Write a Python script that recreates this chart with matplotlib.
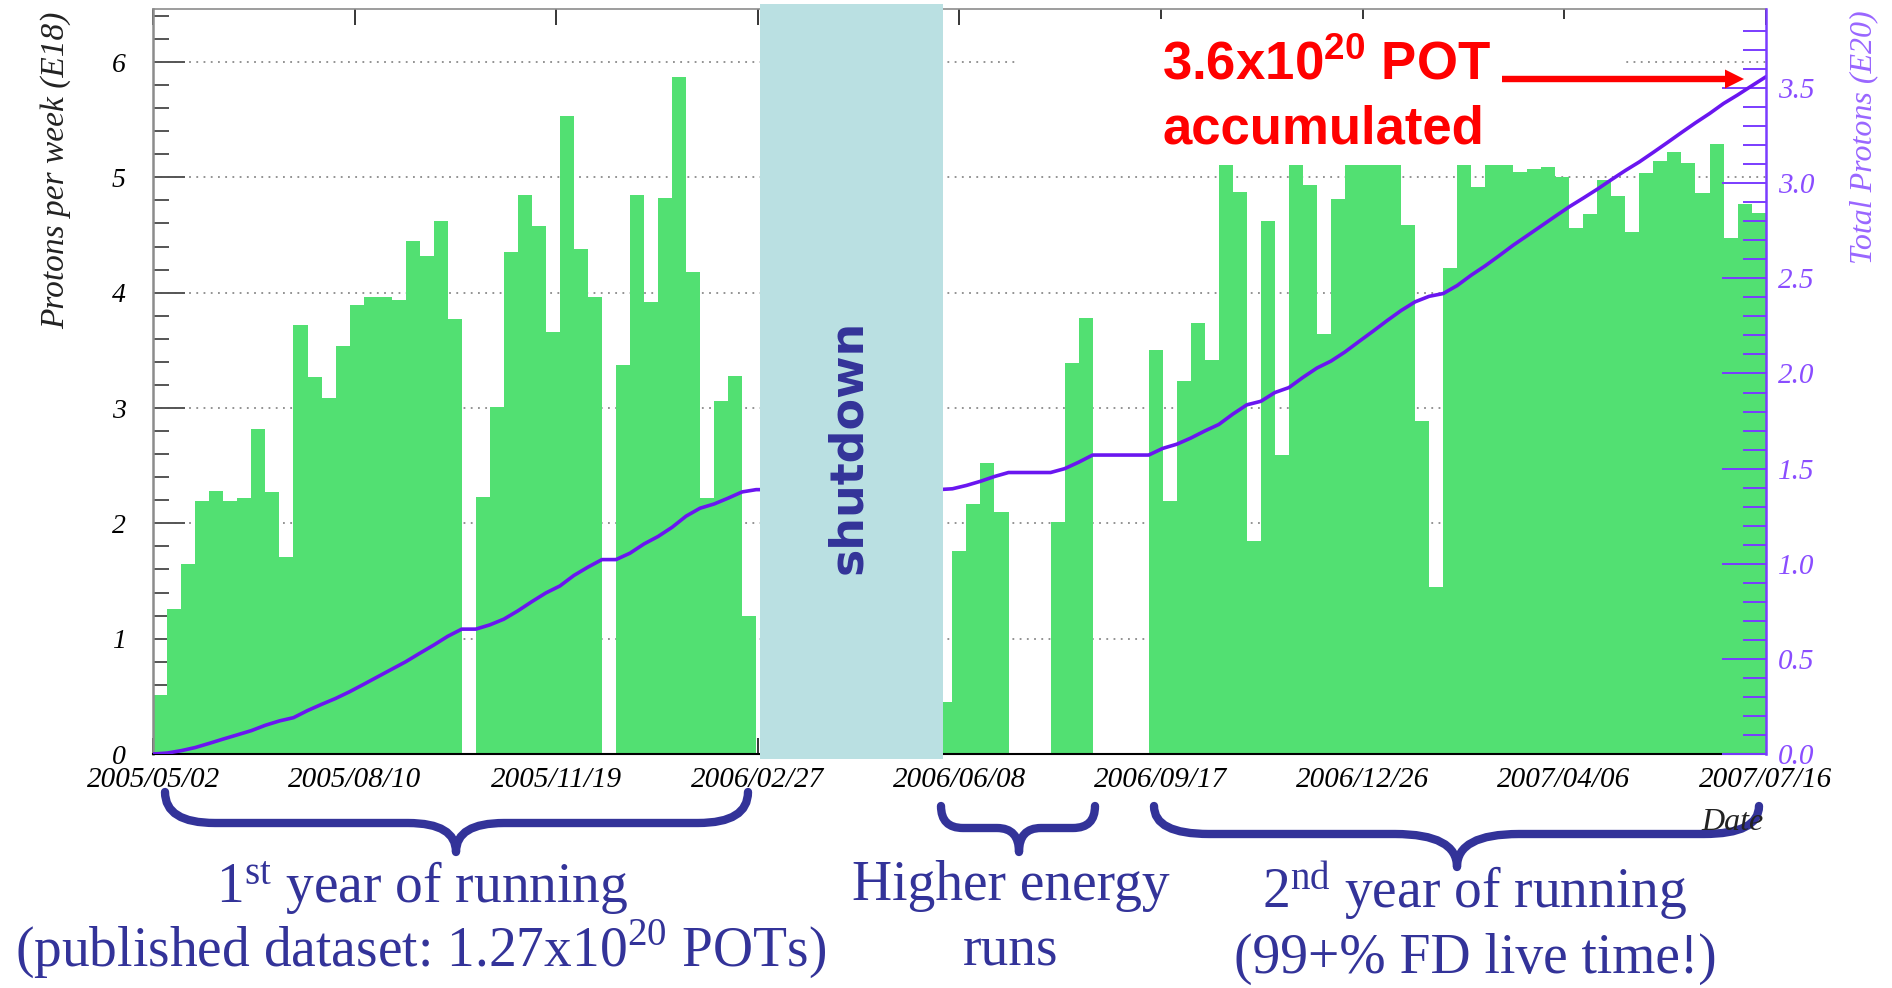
import matplotlib
matplotlib.use("Agg")
import matplotlib.pyplot as plt
import matplotlib.dates as mdates
from matplotlib.patches import Rectangle, FancyArrow, PathPatch
from matplotlib.path import Path
import numpy as np
import datetime as dt

plt.rcParams["font.family"] = ["Liberation Serif", "DejaVu Serif"]
plt.rcParams["mathtext.fontset"] = "custom"
plt.rcParams["mathtext.rm"] = "Liberation Serif"
plt.rcParams["mathtext.bf"] = "Liberation Sans:bold"

# protons on target per week (E18), weekly bins starting 2005/05/02
year1 = [0.51, 1.26, 1.65, 2.19, 2.28, 2.19, 2.22, 2.82, 2.27, 1.71,
         3.72, 3.27, 3.09, 3.54, 3.89, 3.96, 3.96, 3.94, 4.45, 4.32,
         4.62, 3.77, 0.00, 2.23, 3.01, 4.35, 4.85, 4.58, 3.66, 5.53,
         4.38, 3.96, 0.00, 3.37, 4.85, 3.92, 4.82, 5.87, 4.18, 2.22,
         3.06, 3.28, 1.20]
shutdown = [0.0] * 13
higher_energy = [0.45, 1.76, 2.17, 2.52, 2.10, 0.00, 0.00, 0.00, 2.01, 3.39,
                 3.78, 0.00, 0.00, 0.00, 0.00]
year2 = [3.50, 2.19, 3.23, 3.74, 3.42, 5.45, 4.87, 1.85, 4.62, 2.59,
         5.35, 4.93, 3.64, 4.81, 5.50, 5.40, 5.55, 5.30, 4.59, 2.89,
         1.45, 4.21, 5.45, 4.92, 5.35, 5.50, 5.05, 5.07, 5.09, 5.00,
         4.56, 4.68, 4.98, 4.84, 4.53, 5.04, 5.14, 5.22, 5.12, 4.86,
         5.29, 4.47, 4.77, 4.69]
weekly = np.array(year1 + shutdown + higher_energy + year2)

first_week = dt.datetime(2005, 5, 2)
n_divisions = 8

edges = mdates.date2num([first_week + dt.timedelta(weeks=i) for i in range(len(weekly) + 1)])
total = np.concatenate([[0.0], np.cumsum(weekly)]) / 100.0   # E20

GREEN = "#52e072"
VIOLET = "#6a16f0"
AXVIOLET = "#7a3cff"
NAVY = "#333399"

W, H = 1892, 988
fig = plt.figure(figsize=(W / 100, H / 100), dpi=100)
x0, x1, ytop, ybot = 153.3, 1765.6, 9.3, 754.0
ax = fig.add_axes([x0 / W, 1 - ybot / H, (x1 - x0) / W, (ybot - ytop) / H])

ax.stairs(weekly, edges, fill=True, color=GREEN, lw=0, zorder=1)
ax.set_xlim(edges[0], edges[-1])
ax.set_ylim(0, 1.1 * weekly.max())
ax.set_axisbelow(True)
ax.grid(axis="y", which="major", color="#8a8a8a", linestyle=(0, (1, 3)), lw=1.3)

xt = np.linspace(edges[0], edges[-1], n_divisions + 1)
ax.set_xticks(xt)
ax.set_xticklabels([mdates.num2date(t).strftime("%Y/%m/%d") for t in xt],
                   fontstyle="italic", fontsize=21)
ax.set_yticks(np.arange(0, 7))
ax.set_yticklabels([str(i) for i in range(7)], fontstyle="italic", fontsize=20)
ax.set_yticks(np.arange(0, 6.5, 0.2), minor=True)
ax.tick_params(axis="x", which="major", direction="in", top=True, bottom=True,
               length=11.5, width=1.1, color="black", pad=9)
ax.tick_params(axis="y", which="major", direction="in", length=22.7, width=1.4,
               color="#555555", pad=20)
ax.tick_params(axis="y", which="minor", direction="in", length=11.5, width=1.4,
               color="#555555")
ax.spines["right"].set_visible(False)
ax.spines["left"].set_color("#8c8c8c")
ax.spines["left"].set_linewidth(1.8)
ax.spines["top"].set_color("#8c8c8c")
ax.spines["top"].set_linewidth(1.2)
ax.spines["bottom"].set_color("black")
ax.spines["bottom"].set_linewidth(1.5)

# cumulative total on the right-hand scale
ax2 = ax.twinx()
ax2.plot(edges, total, color=VIOLET, lw=2.6, solid_joinstyle="round")
ax2.set_ylim(0, 1.1 * total[-1])
rt = np.arange(0, 3.51, 0.5)
ax2.set_yticks(rt)
ax2.set_yticklabels([f"{v:.1f}" for v in rt], fontstyle="italic", fontsize=21,
                    color="#8a4dff")
ax2.set_yticks(np.arange(0, 3.9, 0.1), minor=True)
ax2.tick_params(axis="y", which="major", direction="in", length=32, width=1.4,
                color=AXVIOLET, pad=9)
ax2.tick_params(axis="y", which="minor", direction="in", length=16.5, width=1.4,
                color=AXVIOLET)
for s in ("left", "top", "bottom"):
    ax2.spines[s].set_visible(False)
ax2.spines["right"].set_color(AXVIOLET)
ax2.spines["right"].set_linewidth(1.8)

# overlay in pixel units for the slide annotations
ov = fig.add_axes([0, 0, 1, 1], zorder=5)
ov.set_xlim(0, W)
ov.set_ylim(H, 0)
ov.axis("off")
ov.patch.set_visible(False)

ov.text(55.5, 12, "Protons per week (E18)", rotation=90, ha="center", va="top",
        fontstyle="italic", fontsize=24, color="#222222")
ov.text(1864, 10, "Total Protons (E20)", rotation=90, ha="center", va="top",
        fontstyle="italic", fontsize=23, color="#9966ff")
ov.text(1764, 830, "Date", ha="right", va="baseline", fontstyle="italic",
        fontsize=23, color="#222222")

ov.add_patch(Rectangle((760.3, 4), 182.4, 755, fc="#bae0e2", ec="none"))
ov.text(849, 447, "shutdown", rotation=90, ha="center", va="center",
        family="DejaVu Sans", fontweight="bold", fontsize=33, color=NAVY)

ov.add_patch(Rectangle((1017, 19), 607, 146, fc="white", ec="none"))
ov.text(1162, 80, r"$\mathbf{3.6x10^{20}}$ POT", ha="left", va="baseline",
        family="Liberation Sans", fontweight="bold", fontsize=38, color="red")
ov.text(1162, 144, "accumulated", ha="left", va="baseline",
        family="Liberation Sans", fontweight="bold", fontsize=38, color="red")
ov.add_patch(FancyArrow(1502, 79, 242, 0, width=6.4, head_width=19,
                        head_length=19, length_includes_head=True,
                        color="red", lw=0))


def brace(xa, xb, xtip, y_end, y_bar, y_tip, r_end, r_tip):
    verts = [(xa, y_end), (xa, y_bar), (xa + r_end, y_bar),
             (xtip - r_tip, y_bar), (xtip, y_bar), (xtip, y_tip),
             (xtip, y_bar), (xtip + r_tip, y_bar),
             (xb - r_end, y_bar), (xb, y_bar), (xb, y_end)]
    codes = [Path.MOVETO, Path.CURVE3, Path.CURVE3, Path.LINETO,
             Path.CURVE3, Path.CURVE3, Path.CURVE3, Path.CURVE3,
             Path.LINETO, Path.CURVE3, Path.CURVE3]
    ov.add_patch(PathPatch(Path(verts, codes), fc="none", ec=NAVY, lw=6,
                           capstyle="round", joinstyle="round"))


brace(165, 748, 456, 792, 823, 852, 50, 48)
brace(941, 1095, 1019, 806, 828, 852, 22, 22)
brace(1154, 1759, 1457, 806, 834, 867, 55, 62)

blue = dict(ha="center", va="baseline", fontsize=40, color=NAVY)
ov.text(422, 903, r"$\mathrm{1^{st}}$ year of running", **blue)
ov.text(421, 967, r"(published dataset: 1.27x10$^{20}$ POTs)", **blue)
ov.text(1011, 900, "Higher energy", **blue)
ov.text(1011, 965, "runs", **blue)
ov.text(1475, 908, r"$\mathrm{2^{nd}}$ year of running", **blue)
ov.text(1475, 973, "(99+% FD live time!)", **blue)

fig.savefig("out.png", dpi=100)
